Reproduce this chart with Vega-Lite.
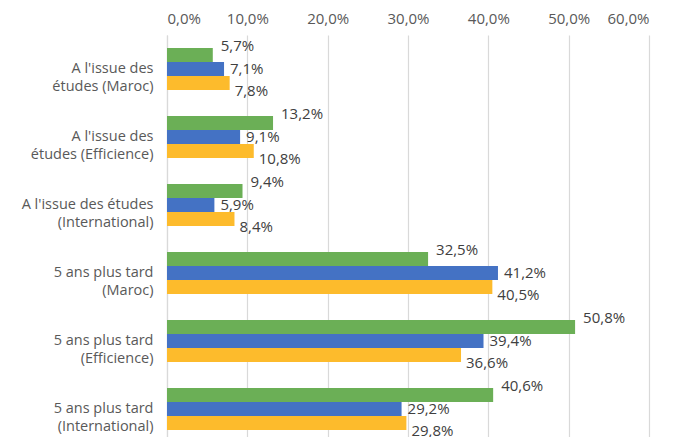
{
  "$schema": "https://vega.github.io/schema/vega-lite/v6.json",
  "autosize": "none",
  "width": 482,
  "height": 408,
  "padding": {"left": 167, "top": 35, "right": 33, "bottom": 0},
  "background": "white",
  "config": {
    "view": {"stroke": null},
    "font": "Open Sans",
    "locale": {"number": {"decimal": ",", "thousands": " ", "grouping": [3], "currency": ["", " €"], "percent": "%"}}
  },
  "data": {"values": [
    {"cat": "A l'issue des|études (Maroc)", "s": "S1", "v": 0.057},
    {"cat": "A l'issue des|études (Maroc)", "s": "S2", "v": 0.071},
    {"cat": "A l'issue des|études (Maroc)", "s": "S3", "v": 0.078},
    {"cat": "A l'issue des|études (Efficience)", "s": "S1", "v": 0.132},
    {"cat": "A l'issue des|études (Efficience)", "s": "S2", "v": 0.091},
    {"cat": "A l'issue des|études (Efficience)", "s": "S3", "v": 0.108},
    {"cat": "A l'issue des études|(International)", "s": "S1", "v": 0.094},
    {"cat": "A l'issue des études|(International)", "s": "S2", "v": 0.059},
    {"cat": "A l'issue des études|(International)", "s": "S3", "v": 0.084},
    {"cat": "5 ans plus tard|(Maroc)", "s": "S1", "v": 0.325},
    {"cat": "5 ans plus tard|(Maroc)", "s": "S2", "v": 0.412},
    {"cat": "5 ans plus tard|(Maroc)", "s": "S3", "v": 0.405},
    {"cat": "5 ans plus tard|(Efficience)", "s": "S1", "v": 0.508},
    {"cat": "5 ans plus tard|(Efficience)", "s": "S2", "v": 0.394},
    {"cat": "5 ans plus tard|(Efficience)", "s": "S3", "v": 0.366},
    {"cat": "5 ans plus tard|(International)", "s": "S1", "v": 0.406},
    {"cat": "5 ans plus tard|(International)", "s": "S2", "v": 0.292},
    {"cat": "5 ans plus tard|(International)", "s": "S3", "v": 0.298}
  ]},
  "encoding": {
    "y": {
      "field": "cat", "type": "nominal", "sort": null,
      "scale": {"paddingInner": 0.38, "paddingOuter": 0.19},
      "axis": {
        "title": null, "ticks": false, "domain": true, "domainColor": "#d9d9d9", "domainWidth": 1.2,
        "labelExpr": "split(datum.label, '|')",
        "labelFont": "Open Sans", "labelFontSize": 14.5, "labelColor": "#595959",
        "labelPadding": 14, "labelLineHeight": 18, "labelLimit": 200
      }
    },
    "yOffset": {"field": "s", "type": "nominal", "sort": ["S1", "S2", "S3"]},
    "x": {
      "field": "v", "type": "quantitative",
      "scale": {"domain": [0, 0.6], "nice": false},
      "axis": {
        "orient": "top", "title": null, "values": [0, 0.1, 0.2, 0.3, 0.4, 0.5, 0.6],
        "format": ".1%",
        "ticks": false, "domain": false, "grid": true, "gridColor": "#d9d9d9", "gridWidth": 1.2,
        "labelFont": "Open Sans", "labelFontSize": 15, "labelColor": "#595959", "labelPadding": 9
      }
    }
  },
  "layer": [
    {
      "mark": {"type": "bar"},
      "encoding": {
        "color": {
          "field": "s", "type": "nominal", "legend": null,
          "scale": {"domain": ["S1", "S2", "S3"], "range": ["#6BAF56", "#4472C4", "#FDBB2C"]}
        }
      }
    },
    {
      "transform": [{"filter": "datum.s == 'S1'"}],
      "mark": {"type": "text", "align": "left", "baseline": "middle", "dx": 8, "dy": -9, "fontSize": 15, "color": "#404040", "font": "Open Sans"},
      "encoding": {"text": {"field": "v", "type": "quantitative", "format": ".1%"}}
    },
    {
      "transform": [{"filter": "datum.s == 'S2'"}],
      "mark": {"type": "text", "align": "left", "baseline": "middle", "dx": 6, "dy": 0, "fontSize": 15, "color": "#404040", "font": "Open Sans"},
      "encoding": {"text": {"field": "v", "type": "quantitative", "format": ".1%"}}
    },
    {
      "transform": [{"filter": "datum.s == 'S3'"}],
      "mark": {"type": "text", "align": "left", "baseline": "middle", "dx": 5, "dy": 8, "fontSize": 15, "color": "#404040", "font": "Open Sans"},
      "encoding": {"text": {"field": "v", "type": "quantitative", "format": ".1%"}}
    }
  ]
}
